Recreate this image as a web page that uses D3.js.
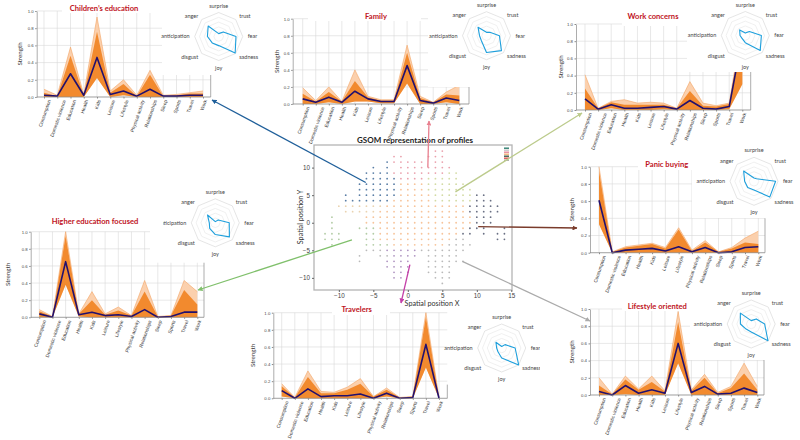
<!DOCTYPE html>
<html>
<head>
<meta charset="utf-8">
<script src="https://cdn.jsdelivr.net/npm/d3@7"></script>
<style>
  body { margin: 0; background: #fff; }
  svg { display: block; font-family: Lato, "Open Sans", sans-serif; }
</style>
</head>
<body>
<svg id="chart" width="800" height="440"></svg>
<script>
// Topics and emotions shared by every profile
const categories = ["Consumption", "Domestic violence", "Education", "Health", "Kids", "Leisure",
  "Lifestyle", "Physical activity", "Relationships", "Sleep", "Sports", "Travel", "Work"];
const emotions = ["surprise", "trust", "fear", "sadness", "joy", "disgust", "anticipation", "anger"];
const strengthTicks = [0, 0.2, 0.4, 0.6, 0.8, 1.0];

// Children's education
const kidsMean = [0.02, 0.01, 0.27, 0.02, 0.46, 0.03, 0.07, 0.01, 0.09, 0.01, 0.01, 0.02, 0.02];
const kidsMax  = [0.09, 0.02, 0.58, 0.03, 0.93, 0.07, 0.20, 0.02, 0.31, 0.02, 0.03, 0.05, 0.07];
const kidsCore = [0.05, 0.01, 0.48, 0.02, 0.76, 0.05, 0.15, 0.01, 0.26, 0.01, 0.02, 0.04, 0.04];
const kidsMin  = [0.00, 0.00, 0.00, 0.00, 0.22, 0.00, 0.02, 0.00, 0.00, 0.00, 0.00, 0.00, 0.00];
const kidsEmotion = [0.12, 0.27, 0.72, 0.97, 0.38, 0.38, 0.47, 0.62];

// Family
const famMean = [0.06, 0.02, 0.08, 0.02, 0.15, 0.06, 0.03, 0.03, 0.45, 0.04, 0.01, 0.07, 0.04];
const famMax  = [0.19, 0.04, 0.20, 0.03, 0.40, 0.09, 0.05, 0.05, 0.69, 0.09, 0.02, 0.14, 0.22];
const famCore = [0.12, 0.03, 0.14, 0.03, 0.27, 0.08, 0.04, 0.04, 0.60, 0.07, 0.02, 0.11, 0.10];
const famMin  = [0.00, 0.00, 0.02, 0.00, 0.03, 0.03, 0.01, 0.01, 0.24, 0.00, 0.00, 0.02, 0.00];
const famEmotion = [0.14, 0.20, 0.54, 0.88, 0.70, 0.30, 0.29, 0.50];

// Work concerns
const workMean = [0.13, 0.01, 0.06, 0.02, 0.02, 0.03, 0.04, 0.01, 0.11, 0.02, 0.01, 0.04, 0.85];
const workMax  = [0.41, 0.02, 0.10, 0.12, 0.08, 0.09, 0.08, 0.02, 0.33, 0.08, 0.05, 0.08, 1.00];
const workCore = [0.25, 0.02, 0.09, 0.06, 0.06, 0.06, 0.06, 0.02, 0.22, 0.05, 0.04, 0.07, 0.95];
const workMin  = [0.00, 0.00, 0.02, 0.00, 0.00, 0.00, 0.01, 0.00, 0.00, 0.00, 0.00, 0.01, 0.30];
const workEmotion = [0.10, 0.24, 0.67, 0.88, 0.30, 0.18, 0.22, 0.33];

// Panic buying
const panicMean = [0.61, 0.00, 0.03, 0.04, 0.05, 0.02, 0.07, 0.01, 0.06, 0.00, 0.01, 0.06, 0.07];
const panicMax  = [1.00, 0.01, 0.07, 0.09, 0.11, 0.06, 0.29, 0.03, 0.14, 0.01, 0.06, 0.17, 0.25];
const panicCore = [0.95, 0.01, 0.06, 0.08, 0.10, 0.05, 0.27, 0.02, 0.12, 0.01, 0.05, 0.12, 0.10];
const panicMin  = [0.33, 0.00, 0.00, 0.00, 0.00, 0.00, 0.00, 0.00, 0.00, 0.00, 0.00, 0.00, 0.00];
const panicEmotion = [0.14, 0.15, 0.90, 0.93, 0.36, 0.37, 0.39, 0.61];

// Lifestyle oriented
const lifeMean = [0.04, 0.00, 0.11, 0.02, 0.06, 0.02, 0.60, 0.03, 0.10, 0.01, 0.02, 0.08, 0.03];
const lifeMax  = [0.20, 0.01, 0.22, 0.07, 0.22, 0.05, 0.97, 0.06, 0.24, 0.03, 0.10, 0.37, 0.10];
const lifeCore = [0.11, 0.01, 0.18, 0.06, 0.15, 0.04, 0.85, 0.05, 0.20, 0.02, 0.08, 0.25, 0.06];
const lifeMin  = [0.00, 0.00, 0.01, 0.00, 0.00, 0.00, 0.37, 0.00, 0.00, 0.00, 0.00, 0.00, 0.00];
const lifeEmotion = [0.14, 0.30, 0.56, 0.99, 0.33, 0.30, 0.45, 0.64];

// Travelers
const travelMean = [0.09, 0.00, 0.11, 0.02, 0.03, 0.03, 0.05, 0.00, 0.06, 0.00, 0.01, 0.63, 0.00];
const travelMax  = [0.17, 0.01, 0.32, 0.08, 0.07, 0.13, 0.23, 0.02, 0.12, 0.01, 0.02, 1.00, 0.01];
const travelCore = [0.14, 0.01, 0.25, 0.06, 0.06, 0.10, 0.17, 0.02, 0.10, 0.01, 0.02, 0.95, 0.01];
const travelMin  = [0.02, 0.00, 0.00, 0.00, 0.00, 0.00, 0.00, 0.00, 0.02, 0.00, 0.00, 0.36, 0.00];
const travelEmotion = [0.06, 0.20, 0.56, 1.00, 0.42, 0.22, 0.21, 0.34];

// Higher education focused
const uniMean = [0.04, 0.00, 0.65, 0.03, 0.06, 0.02, 0.03, 0.01, 0.09, 0.00, 0.01, 0.06, 0.06];
const uniMax  = [0.09, 0.01, 1.00, 0.04, 0.30, 0.04, 0.12, 0.02, 0.43, 0.01, 0.02, 0.43, 0.30];
const uniCore = [0.07, 0.01, 0.95, 0.04, 0.20, 0.03, 0.08, 0.02, 0.30, 0.01, 0.02, 0.32, 0.15];
const uniMin  = [0.00, 0.00, 0.38, 0.01, 0.00, 0.00, 0.00, 0.00, 0.00, 0.00, 0.00, 0.00, 0.00];
const uniEmotion = [0.05, 0.17, 0.58, 0.83, 0.49, 0.33, 0.25, 0.46];

// GSOM node grid, run-length encoded per row: [xFrom, xTo, cluster]
const gsomRows = [
  { y: 13, runs: [[4, 5, "r"]] },
  { y: 12, runs: [[-2, -1, "r"], [3, 5, "r"]] },
  { y: 11, runs: [[-3, -3, "b"], [-2, 2, "r"], [4, 5, "r"]] },
  { y: 10, runs: [[-5, -5, "b"], [-3, -3, "b"], [-1, 6, "r"]] },
  { y: 9, runs: [[-6, -3, "b"], [-2, 5, "r"], [6, 7, "y"]] },
  { y: 8, runs: [[-6, -2, "b"], [-1, 2, "r"], [3, 7, "y"]] },
  { y: 7, runs: [[-7, -2, "b"], [-1, 2, "o"], [3, 8, "y"]] },
  { y: 6, runs: [[-7, -2, "b"], [-1, 2, "o"], [3, 9, "y"]] },
  { y: 5, runs: [[-9, -9, "b"], [-7, -2, "b"], [-1, 3, "o"], [4, 9, "y"], [10, 11, "k"]] },
  { y: 4, runs: [[-9, -3, "b"], [-2, 3, "o"], [4, 9, "y"], [10, 12, "k"]] },
  { y: 3, runs: [[-10, -4, "t"], [-3, 8, "o"], [9, 13, "k"]] },
  { y: 2, runs: [[-9, -5, "t"], [-4, 8, "o"], [9, 13, "k"]] },
  { y: 1, runs: [[-11, -11, "l"], [-6, 9, "o"], [10, 12, "k"]] },
  { y: 0, runs: [[-11, -11, "l"], [-6, 9, "o"], [10, 12, "k"]] },
  { y: -1, runs: [[-11, -11, "l"], [-7, -5, "l"], [-4, 8, "o"], [9, 11, "k"], [14, 14, "k"]] },
  { y: -2, runs: [[-12, -10, "l"], [-6, -5, "l"], [-4, 7, "o"], [8, 9, "k"], [11, 11, "k"], [13, 14, "k"]] },
  { y: -3, runs: [[-12, -10, "l"], [-6, -5, "l"], [-4, 6, "o"], [7, 8, "g"], [13, 14, "k"]] },
  { y: -4, runs: [[-11, -11, "l"], [-6, -3, "l"], [-2, 5, "o"], [6, 9, "g"]] },
  { y: -5, runs: [[-6, -4, "g"], [-3, 1, "m"], [2, 8, "g"]] },
  { y: -6, runs: [[-7, -7, "g"], [-4, -3, "g"], [-2, 1, "m"], [3, 7, "g"]] },
  { y: -7, runs: [[-7, -7, "g"], [-3, 0, "m"], [3, 8, "g"]] },
  { y: -8, runs: [[-3, 0, "m"], [3, 6, "g"]] },
  { y: -9, runs: [[-2, 0, "m"], [3, 6, "g"]] },
  { y: -10, runs: [[-2, -1, "m"], [4, 6, "g"]] },
  { y: -11, runs: [[5, 5, "g"]] }
];
const gsomXTicks = [-10, -5, 0, 5, 10, 15];
const gsomYTicks = [-10, -5, 0, 5, 10];

// Styling
const clusterColors = { b: "#5a7ea6", r: "#eaa0ac", y: "#d3dba4", o: "#f7c49a", k: "#6a7084",
  g: "#b9b9b9", m: "#ae93c0", l: "#b3cca6", t: "#ead3b0" };
const legendColors = ["#2f7f6f", "#c8c8c8", "#e58a9c", "#f4b27a", "#3d5a4a", "#d9534f", "#a8a8a8"];

const svg = d3.select("#chart");
const defs = svg.append("defs");

// ---- central GSOM scatter ----
const xS = d3.scaleLinear().domain([-13.6, 15.1]).range([314, 512]);
const yS = d3.scaleLinear().domain([-12.2, 14.1]).range([290, 145]);

function drawGsom() {
  const g = svg.append("g");
  const nodes = gsomRows.flatMap(row =>
    row.runs.flatMap(([a, b, c]) => d3.range(a, b + 1).map(x => ({ x, y: row.y, c }))));
  g.append("g").selectAll("circle").data(nodes).join("circle")
    .attr("cx", d => xS(d.x)).attr("cy", d => yS(d.y)).attr("r", 0.9)
    .attr("fill", d => clusterColors[d.c]);

  g.append("rect").attr("x", 314).attr("y", 145).attr("width", 198).attr("height", 145)
    .attr("fill", "none").attr("stroke", "#b4b4b4").attr("stroke-width", 1.3);

  const ax = g.append("g").attr("transform", "translate(0,290)")
    .call(d3.axisBottom(xS).tickValues(gsomXTicks).tickSize(2).tickPadding(2));
  const ay = g.append("g").attr("transform", "translate(314,0)")
    .call(d3.axisLeft(yS).tickValues(gsomYTicks).tickSize(2).tickPadding(2));
  [ax, ay].forEach(a => {
    a.select(".domain").remove();
    a.selectAll("line").attr("stroke", "#666");
    a.selectAll("text").attr("font-size", 6.3).attr("fill", "#444");
  });

  // tiny legend box in the corner
  g.append("g").selectAll("rect").data(legendColors).join("rect")
    .attr("x", 504).attr("y", (d, i) => 147.5 + i * 2).attr("width", 5).attr("height", 1.4)
    .attr("fill", d => d);

  g.append("text").attr("x", 415).attr("y", 140).attr("dy", "0.35em").attr("text-anchor", "middle")
    .attr("font-size", 8).attr("font-weight", 700).attr("fill", "#222")
    .text("GSOM representation of profiles");
  g.append("text").attr("x", 432).attr("y", 303).attr("dy", "0.35em").attr("text-anchor", "middle")
    .attr("font-size", 7.2).attr("fill", "#333").text("Spatial position X");
  g.append("text").attr("transform", "translate(300,217) rotate(-90)").attr("dy", "0.35em")
    .attr("text-anchor", "middle").attr("font-size", 7.2).attr("fill", "#333").text("Spatial position Y");
}

// ---- profile panels ----
const panels = [
  { title: "Travelers", mean: travelMean, max: travelMax, core: travelCore, min: travelMin, emo: travelEmotion,
    x0: 281.7, x1: 439, left: 273.3, right: 447.3, yt: 312.7, yb: 398.3, tx: 356.7, ty: 309, sx: 253.3,
    spineTop: 0.16, covers: [[332, 301, 58, 14]], cx: 501.7, cy: 348, clip: [0, 0, 540, 440] },
  { title: "Higher education focused", mean: uniMean, max: uniMax, core: uniCore, min: uniMin, emo: uniEmotion,
    x0: 39.3, x1: 197.3, left: 30.7, right: 204, yt: 231.7, yb: 317.3, tx: 95, ty: 221, sx: 8.3,
    spineTop: 0.65, covers: [[150, 180, 112, 82.7]], cx: 215.3, cy: 222.8, clip: [163, 0, 637, 440] },
  { title: "Children\u2019s education", mean: kidsMean, max: kidsMax, core: kidsCore, min: kidsMin, emo: kidsEmotion,
    x0: 44, x1: 203, left: 36.7, right: 210.7, yt: 11, yb: 97, tx: 104, ty: 8, sx: 20,
    spineTop: 0.26, covers: [[62, 0, 100, 13], [162, 0, 120, 75]], cx: 218.7, cy: 36.5 },
  { title: "Family", mean: famMean, max: famMax, core: famCore, min: famMin, emo: famEmotion,
    x0: 302.7, x1: 459.3, left: 292.7, right: 469, yt: 18.7, yb: 104, tx: 376, ty: 16.7, sx: 277,
    spineTop: 0.2, covers: [[308, 6, 113, 15], [428, 0, 112, 87]], cx: 486.5, cy: 35.7 },
  { title: "Work concerns", mean: workMean, max: workMax, core: workCore, min: workMin, emo: workEmotion,
    x0: 585, x1: 742.3, left: 576, right: 750.7, yt: 24, yb: 110, tx: 653, ty: 16.7, sx: 560.7,
    spineTop: 0.45, covers: [[622, 6, 65, 20], [687, 0, 113, 72]], cx: 745.3, cy: 35.5 },
  { title: "Panic buying", mean: panicMean, max: panicMax, core: panicCore, min: panicMin, emo: panicEmotion,
    x0: 599, x1: 758.3, left: 590, right: 765, yt: 166.7, yb: 252.7, tx: 666.7, ty: 164.7, sx: 571.7,
    spineTop: 0.4, covers: [[638, 156, 54, 14], [692, 140, 108, 78]], cx: 754, cy: 181.3 },
  { title: "Lifestyle oriented", mean: lifeMean, max: lifeMax, core: lifeCore, min: lifeMin, emo: lifeEmotion,
    x0: 599, x1: 757.3, left: 590, right: 764, yt: 309, yb: 395, tx: 657.3, ty: 306, sx: 571.7,
    spineTop: 0.41, covers: [[622, 297, 68, 14], [690, 287, 110, 73]], cx: 751.2, cy: 324 }
];

function drawPanel(p, idx) {
  const g = svg.append("g");
  const x = d3.scalePoint().domain(categories).range([p.x0, p.x1]);
  const y = d3.scaleLinear().domain([0, 1]).range([p.yb, p.yt]);

  // grid
  g.append("g").selectAll("line").data(categories).join("line")
    .attr("x1", d => x(d)).attr("x2", d => x(d)).attr("y1", y(0)).attr("y2", y(1))
    .attr("stroke", "#d8d8d8").attr("stroke-width", 0.6);
  g.append("g").selectAll("line").data(strengthTicks).join("line")
    .attr("x1", p.left).attr("x2", p.right).attr("y1", d => y(d)).attr("y2", d => y(d))
    .attr("stroke", "#d8d8d8").attr("stroke-width", 0.6);

  const rows = categories.map((c, i) => ({ c, mean: p.mean[i], max: p.max[i], core: p.core[i], min: p.min[i] }));
  const band = (lo, hi) => d3.area().x(d => x(d.c)).y0(d => y(d[lo])).y1(d => y(d[hi]));
  g.append("path").datum(rows).attr("d", band("min", "max")).attr("fill", "#fbd0ad");
  g.append("path").datum(rows).attr("d", band("min", "core")).attr("fill", "#f28a2e");
  g.append("path").datum(rows).attr("d", d3.line().x(d => x(d.c)).y(d => y(d.max)))
    .attr("fill", "none").attr("stroke", "#f4a465").attr("stroke-width", 0.6);
  g.append("path").datum(rows).attr("d", d3.line().x(d => x(d.c)).y(d => y(d.mean)))
    .attr("fill", "none").attr("stroke", "#22106e").attr("stroke-width", 1.6).attr("stroke-linejoin", "round");

  // axes
  const ay = g.append("g").attr("transform", `translate(${p.left},0)`)
    .call(d3.axisLeft(y).tickValues(strengthTicks).tickFormat(d3.format(".1f")).tickSize(1.5).tickSizeOuter(0).tickPadding(1.5));
  ay.select(".domain").attr("stroke", "#8a8a8a").attr("stroke-width", 0.7);
  ay.selectAll("line").attr("stroke", "#8a8a8a");
  ay.selectAll("text").attr("font-size", 4.3).attr("fill", "#444");

  const ax = g.append("g").attr("transform", `translate(0,${p.yb})`)
    .call(d3.axisBottom(x).tickSize(1.5).tickSizeOuter(0));
  ax.select(".domain").remove();
  ax.selectAll("line").attr("stroke", "#8a8a8a");
  ax.selectAll("text").attr("font-size", 4.8).attr("fill", "#333")
    .attr("x", 0).attr("y", 0).attr("dy", "0.35em").attr("text-anchor", "end")
    .attr("transform", function () {
      const len = this.getComputedTextLength();
      return `translate(${0.17 * len},3) rotate(-71)`;
    });
  g.append("line").attr("x1", p.left).attr("x2", p.right).attr("y1", y(0)).attr("y2", y(0))
    .attr("stroke", "#8a8a8a").attr("stroke-width", 0.7);
  g.append("line").attr("x1", p.right).attr("x2", p.right).attr("y1", y(0)).attr("y2", y(p.spineTop))
    .attr("stroke", "#8a8a8a").attr("stroke-width", 0.7);

  g.append("text").attr("transform", `translate(${p.sx},${(p.yt + p.yb) / 2}) rotate(-90)`)
    .attr("dy", "0.35em").attr("text-anchor", "middle").attr("font-size", 6.2).attr("fill", "#333")
    .text("Strength");

  // white patches where the title box and the radar picture overlap the plot
  g.append("g").selectAll("rect").data(p.covers).join("rect")
    .attr("x", d => d[0]).attr("y", d => d[1]).attr("width", d => d[2]).attr("height", d => d[3])
    .attr("fill", "#fff");

  g.append("text").attr("x", p.tx).attr("y", p.ty).attr("dy", "0.35em").attr("text-anchor", "middle")
    .attr("font-size", 7.6).attr("font-weight", 700).attr("fill", "#c0141e").text(p.title);

  drawRadar(p, idx);
}

function drawRadar(p, idx) {
  let outer = svg.append("g");
  if (p.clip) {
    defs.append("clipPath").attr("id", "rclip" + idx).append("rect")
      .attr("x", p.clip[0]).attr("y", p.clip[1]).attr("width", p.clip[2]).attr("height", p.clip[3]);
    outer.attr("clip-path", `url(#rclip${idx})`);
  }
  const g = outer.append("g").attr("transform", `translate(${p.cx},${p.cy})`);
  const R = 24;
  const r = d3.scaleLinear().domain([0, 1]).range([0, R]);
  const radial = d3.lineRadial().angle((d, i) => i * Math.PI / 4).radius(d => r(d)).curve(d3.curveLinearClosed);

  [0.2, 0.4, 0.6, 0.8, 1].forEach(lv => {
    g.append("path").attr("d", radial(emotions.map(() => lv)))
      .attr("fill", "none").attr("stroke", lv === 1 ? "#d4d4d4" : "#e6e6e6").attr("stroke-width", 0.6);
  });
  g.append("path").attr("d", radial(p.emo)).attr("fill", "none")
    .attr("stroke", "#1d9fdc").attr("stroke-width", 1.1).attr("stroke-linejoin", "round");

  g.selectAll("text.emo").data(emotions).join("text").attr("class", "emo")
    .attr("x", (d, i) => Math.sin(i * Math.PI / 4) * (R + 5))
    .attr("y", (d, i) => -Math.cos(i * Math.PI / 4) * (R + 5))
    .attr("text-anchor", (d, i) => {
      const s = Math.sin(i * Math.PI / 4);
      return s > 0.1 ? "start" : s < -0.1 ? "end" : "middle";
    })
    .attr("dy", (d, i) => {
      const c = Math.cos(i * Math.PI / 4);
      return c > 0.9 ? "0em" : c < -0.9 ? "0.75em" : "0.35em";
    })
    .attr("font-size", 5.5).attr("fill", "#444").text(d => d);
}

// ---- arrows linking GSOM regions to profiles ----
const links = [
  { from: [-6.1, 7.3], to: [212, 100], color: "#1f5f9a" },
  { from: [2.9, 10], to: [429, 121], color: "#e8808f" },
  { from: [6.9, 5.6], to: [582, 113], color: "#bccb8c" },
  { from: [10.2, -0.7], to: [577, 228], color: "#7a3b2b" },
  { from: [7.9, -7.0], to: [590, 321], color: "#ababab" },
  { from: [0.3, -7.6], to: [401, 303], color: "#c440a8" },
  { from: [-8.1, -3.1], to: [198, 290], color: "#80c06c" }
];

function drawLinks() {
  links.forEach((l, i) => {
    defs.append("marker").attr("id", "ah" + i).attr("viewBox", "0 0 10 10")
      .attr("refX", 9).attr("refY", 5).attr("markerWidth", 5).attr("markerHeight", 5)
      .attr("markerUnits", "userSpaceOnUse").attr("orient", "auto")
      .append("path").attr("d", "M0,0L10,5L0,10z").attr("fill", l.color);
  });
  svg.append("g").selectAll("line").data(links).join("line")
    .attr("x1", d => xS(d.from[0])).attr("y1", d => yS(d.from[1]))
    .attr("x2", d => d.to[0]).attr("y2", d => d.to[1])
    .attr("stroke", d => d.color).attr("stroke-width", 1.3)
    .attr("marker-end", (d, i) => `url(#ah${i})`);
}

drawGsom();
panels.forEach(drawPanel);
drawLinks();
</script>
</body>
</html>
